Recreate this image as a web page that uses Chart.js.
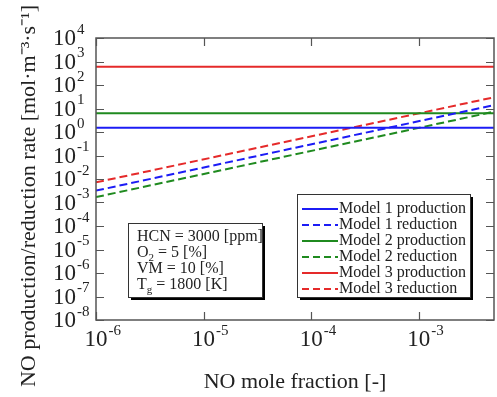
<!DOCTYPE html>
<html>
<head>
<meta charset="utf-8">
<script src="https://cdn.jsdelivr.net/npm/chart.js@4"></script>
<style>
  body { margin: 0; background: #fff; }
</style>
</head>
<body>
<canvas id="noChart" width="497" height="397"></canvas>
<script>
// NO mole fraction range and rates at both ends [mol m-3 s-1]
const noFraction = [1e-6, 5e-3];
const model1Prod = [1.5, 1.5];
const model1Red  = [3.2e-3, 14];
const model2Prod = [6.3, 6.3];
const model2Red  = [1.7e-3, 7.3];
const model3Prod = [600, 600];
const model3Red  = [7.2e-3, 30];

const seriesNames = ['Model 1 production', 'Model 1 reduction', 'Model 2 production',
                     'Model 2 reduction', 'Model 3 production', 'Model 3 reduction'];

const xTickExp = [-6, -5, -4, -3];
const yTickExp = [4, 3, 2, 1, 0, -1, -2, -3, -4, -5, -6, -7, -8];

// [text, subscript, text]
const conditions = [
  ['HCN = 3000 [ppm]', '', ''],
  ['O', '2', ' = 5 [%]'],
  ['VM = 10 [%]', '', ''],
  ['T', 'g', ' = 1800 [K]']
];

const BLUE = '#1c1cf5', GREEN = '#1f8a1f', RED = '#e52a2a';
const SERIF = '"Liberation Serif", "Times New Roman", serif';

function pts(ys) {
  return noFraction.map((x, i) => ({ x: x, y: ys[i] }));
}
function line(label, ys, color, dashed) {
  return {
    label: label,
    data: pts(ys),
    borderColor: color,
    borderWidth: 2,
    borderDash: dashed ? [8, 4] : [],
    pointRadius: 0,
    fill: false
  };
}

const datasets = [
  line(seriesNames[0], model1Prod, BLUE, false),
  line(seriesNames[1], model1Red, BLUE, true),
  line(seriesNames[2], model2Prod, GREEN, false),
  line(seriesNames[3], model2Red, GREEN, true),
  line(seriesNames[4], model3Prod, RED, false),
  line(seriesNames[5], model3Red, RED, true)
];

// frame, inward ticks, power-of-ten labels, titles, info box and legend
const decorations = {
  id: 'decorations',
  afterDraw(chart) {
    const ctx = chart.ctx;
    const a = chart.chartArea;
    const xs = chart.scales.x, ys = chart.scales.y;
    ctx.save();

    ctx.strokeStyle = '#555';
    ctx.lineWidth = 1.5;
    ctx.strokeRect(a.left, a.top, a.right - a.left, a.bottom - a.top);

    ctx.lineWidth = 1.2;
    ctx.beginPath();
    xTickExp.forEach(e => {
      const px = Math.round(xs.getPixelForValue(Math.pow(10, e))) + 0.5;
      ctx.moveTo(px, a.bottom); ctx.lineTo(px, a.bottom - 8);
      ctx.moveTo(px, a.top); ctx.lineTo(px, a.top + 8);
    });
    yTickExp.forEach(e => {
      const py = Math.round(ys.getPixelForValue(Math.pow(10, e))) + 0.5;
      ctx.moveTo(a.left, py); ctx.lineTo(a.left + 8, py);
      ctx.moveTo(a.right, py); ctx.lineTo(a.right - 8, py);
    });
    ctx.stroke();

    ctx.fillStyle = '#222';
    ctx.textBaseline = 'middle';

    // y tick labels
    yTickExp.forEach(e => {
      const py = ys.getPixelForValue(Math.pow(10, e));
      ctx.font = '23px ' + SERIF;
      ctx.textAlign = 'left';
      const x0 = a.left - 43;
      ctx.fillText('10', x0, py + 1);
      const w = ctx.measureText('10').width;
      ctx.font = '15px ' + SERIF;
      ctx.fillText(String(e), x0 + w + 1, py - 8);
    });

    // x tick labels
    xTickExp.forEach(e => {
      const px = xs.getPixelForValue(Math.pow(10, e));
      ctx.font = '23px ' + SERIF;
      ctx.textAlign = 'center';
      const w = ctx.measureText('10').width;
      ctx.fillText('10', px, a.bottom + 20);
      ctx.font = '15px ' + SERIF;
      ctx.textAlign = 'left';
      ctx.fillText(String(e), px + w / 2 + 1, a.bottom + 11);
    });

    // axis titles
    ctx.font = '22px ' + SERIF;
    ctx.textAlign = 'center';
    ctx.fillText('NO mole fraction [-]', (a.left + a.right) / 2, 382);
    ctx.save();
    ctx.translate(29, 196);
    ctx.rotate(-Math.PI / 2);
    ctx.fillText('NO production/reduction rate [mol\u00b7m\u207b\u00b3\u00b7s\u207b\u00b9]', 0, 0);
    ctx.restore();

    // boxed panel with drop shadow
    function panel(x, y, w, h) {
      ctx.fillStyle = '#000';
      ctx.fillRect(x + 3, y + 3, w, h);
      ctx.fillStyle = '#fff';
      ctx.fillRect(x, y, w, h);
      ctx.strokeStyle = '#333';
      ctx.lineWidth = 1;
      ctx.strokeRect(x + 0.5, y + 0.5, w, h);
    }

    // operating conditions
    const bx = a.left + 32, by = 223;
    panel(bx, by, 134, 74);
    ctx.textAlign = 'left';
    ctx.fillStyle = '#222';
    conditions.forEach((c, i) => {
      const ty = by + 14 + i * 16;
      let tx = bx + 9;
      ctx.font = '16px ' + SERIF;
      ctx.fillText(c[0], tx, ty);
      tx += ctx.measureText(c[0]).width;
      if (c[1]) {
        ctx.font = '11px ' + SERIF;
        ctx.fillText(c[1], tx, ty + 5);
        tx += ctx.measureText(c[1]).width;
        ctx.font = '16px ' + SERIF;
        ctx.fillText(c[2], tx, ty);
      }
    });

    // legend
    const lx = 297, ly = 194;
    panel(lx, ly, 173, 103);
    chart.data.datasets.forEach((ds, i) => {
      const ty = ly + 15 + i * 16;
      ctx.strokeStyle = ds.borderColor;
      ctx.lineWidth = 2;
      ctx.setLineDash(ds.borderDash.length ? [7, 4] : []);
      ctx.beginPath();
      ctx.moveTo(lx + 5, ty); ctx.lineTo(lx + 41, ty);
      ctx.stroke();
      ctx.setLineDash([]);
      ctx.fillStyle = '#222';
      ctx.font = '16px ' + SERIF;
      ctx.fillText(ds.label, lx + 42, ty);
    });

    ctx.restore();
  }
};

const config = {
  type: 'line',
  data: { datasets: datasets },
  options: {
    responsive: false,
    animation: false,
    layout: { padding: { left: 0, top: 38, right: 3, bottom: 0 } },
    plugins: {
      legend: { display: false },
      tooltip: { enabled: false }
    },
    scales: {
      x: {
        type: 'logarithmic',
        min: noFraction[0],
        max: noFraction[1],
        ticks: { display: false },
        grid: { display: false },
        border: { display: false },
        afterFit: s => { s.height = 77; }
      },
      y: {
        type: 'logarithmic',
        min: 1e-8,
        max: 1e4,
        ticks: { display: false },
        grid: { display: false },
        border: { display: false },
        afterFit: s => { s.width = 96; }
      }
    }
  },
  plugins: [decorations]
};

const chart = new Chart(document.getElementById('noChart'), config);
</script>
</body>
</html>
